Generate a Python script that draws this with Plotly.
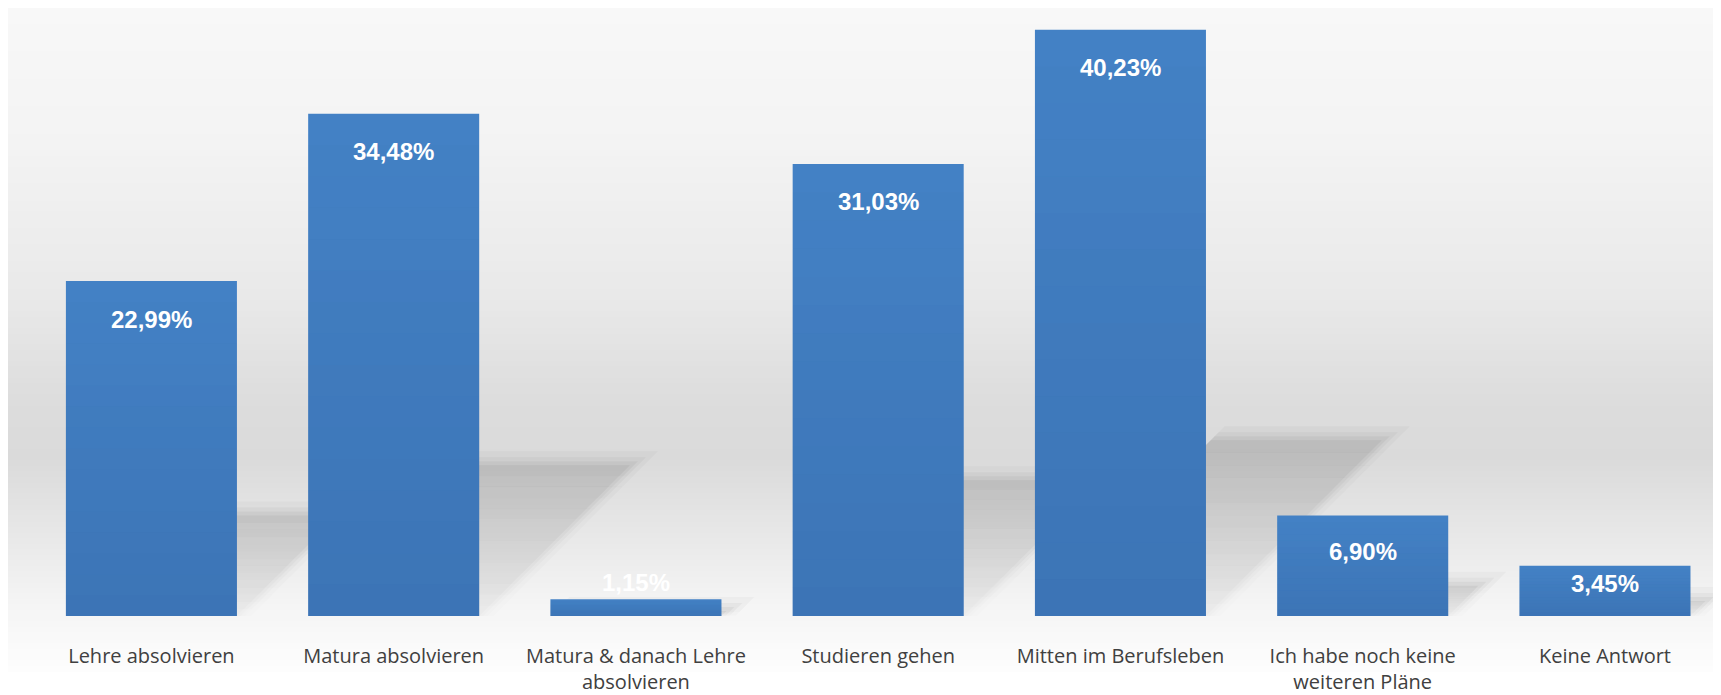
import plotly.graph_objects as go

# survey answers (share of respondents, %)
categories = [
    "Lehre absolvieren",
    "Matura absolvieren",
    "Matura & danach Lehre<br>absolvieren",
    "Studieren gehen",
    "Mitten im Berufsleben",
    "Ich habe noch keine<br>weiteren Pläne",
    "Keine Antwort",
]
values = [22.99, 34.48, 1.15, 31.03, 40.23, 6.90, 3.45]
value_labels = ["22,99%", "34,48%", "1,15%", "31,03%", "40,23%", "6,90%", "3,45%"]

W, H = 1721, 695
# the page body adds an 8px offset on top/left
margin = dict(l=0, r=8, t=0, b=87)
x_range = [-0.592, 6.479]
y_range = [0, 41.73]
bar_width = 0.706

plot_w = W - margin["l"] - margin["r"]
plot_h = H - margin["t"] - margin["b"]
px_per_x = plot_w / (x_range[1] - x_range[0])
px_per_y = plot_h / (y_range[1] - y_range[0])

xs = list(range(len(categories)))

fig = go.Figure()

fig.add_trace(go.Bar(
    x=xs, y=values, width=bar_width,
    marker=dict(color="#4482c6", line=dict(width=0)),
    hovertemplate="%{y:.2f}%<extra></extra>",
    showlegend=False,
))

# value labels sitting inside the top of each bar
for x, v, lab in zip(xs, values, value_labels):
    hpx = v * px_per_y
    if hpx < 30:
        shift = 17
    else:
        shift = -min(38, 0.36 * hpx)
    fig.add_annotation(
        x=x, y=v, text=f"<b>{lab}</b>", showarrow=False,
        yanchor="middle", yshift=shift,
        font=dict(family="Liberation Sans, Arial, sans-serif", size=24, color="white"),
    )

# vertical grey gradient backdrop (pixel rows from top of figure)
stops = [
    (0, (248, 248, 248)), (140, (243, 243, 243)), (290, (233, 233, 233)),
    (390, (221, 221, 221)), (450, (218, 218, 218)), (530, (232, 232, 232)),
    (592, (244, 244, 244)), (664, (253, 253, 253)),
]
n = 120
top, bot = stops[0][0], stops[-1][0]
for i in range(n):
    y0 = top + (bot - top) * i / n
    y1 = top + (bot - top) * (i + 1) / n
    ym = (y0 + y1) / 2
    for (a, ca), (b, cb) in zip(stops[:-1], stops[1:]):
        if a <= ym <= b:
            t = (ym - a) / (b - a)
            c = tuple(round(ca[j] + (cb[j] - ca[j]) * t) for j in range(3))
            break
    fig.add_shape(
        type="rect", xref="paper", yref="paper", layer="below",
        x0=0, x1=1,
        y0=(H - margin["b"] - y1) / plot_h, y1=(H - margin["b"] - y0) / plot_h + 0.002,
        fillcolor=f"rgb{c}", line=dict(width=0),
    )

# soft floor shadows behind the bars, darker toward their far edge
half = bar_width / 2
strips = 14
slope = px_per_y / px_per_x  # 45 degree shear in pixels
for x, v in zip(xs, values):
    h = 0.3 * v
    for k, base in [(14, 0.03), (8, 0.04), (4, 0.05), (0, 0.06)]:
        dx = k / px_per_x
        dy = k / px_per_y
        for s in range(strips):
            ya = h * s / strips
            yb = h * (s + 1) / strips + (dy if s == strips - 1 else 0)
            f = (s + 0.5) / strips
            op = base * (0.3 + 0.9 * f)
            xa0 = x - half + ya * slope
            xb0 = x - half + yb * slope
            xa1 = x + half + dx + ya * slope
            xb1 = x + half + dx + yb * slope
            fig.add_shape(
                type="path", xref="x", yref="y", layer="below",
                path=f"M {xa0},{ya} L {xa1},{ya} L {xb1},{yb} L {xb0},{yb} Z",
                fillcolor=f"rgba(70,70,70,{op:.3f})", line=dict(width=0),
            )

# vertical shading on each bar: lighter top, darker base
bands = 16
for x, v in zip(xs, values):
    for s in range(bands):
        ya = v * s / bands
        yb = v * (s + 1) / bands
        op = 0.16 * (1 - (s + 0.5) / bands)
        fig.add_shape(
            type="rect", xref="x", yref="y", layer="above",
            x0=x - half, x1=x + half, y0=ya, y1=yb,
            fillcolor=f"rgba(20,45,95,{op:.3f})", line=dict(width=0),
        )

fig.update_layout(
    width=W, height=H,
    margin=margin,
    paper_bgcolor="white",
    plot_bgcolor="rgba(0,0,0,0)",
    showlegend=False,
    xaxis=dict(
        range=x_range, tickmode="array", tickvals=xs, ticktext=categories,
        showgrid=False, zeroline=False, showline=False,
        ticks="outside", ticklen=22, tickcolor="rgba(0,0,0,0)",
        tickfont=dict(family="Open Sans, sans-serif", size=20, color="#404040"),
        fixedrange=True,
    ),
    yaxis=dict(
        range=y_range, visible=False, showgrid=False, zeroline=False,
        fixedrange=True,
    ),
)

fig.write_html("out.html")
